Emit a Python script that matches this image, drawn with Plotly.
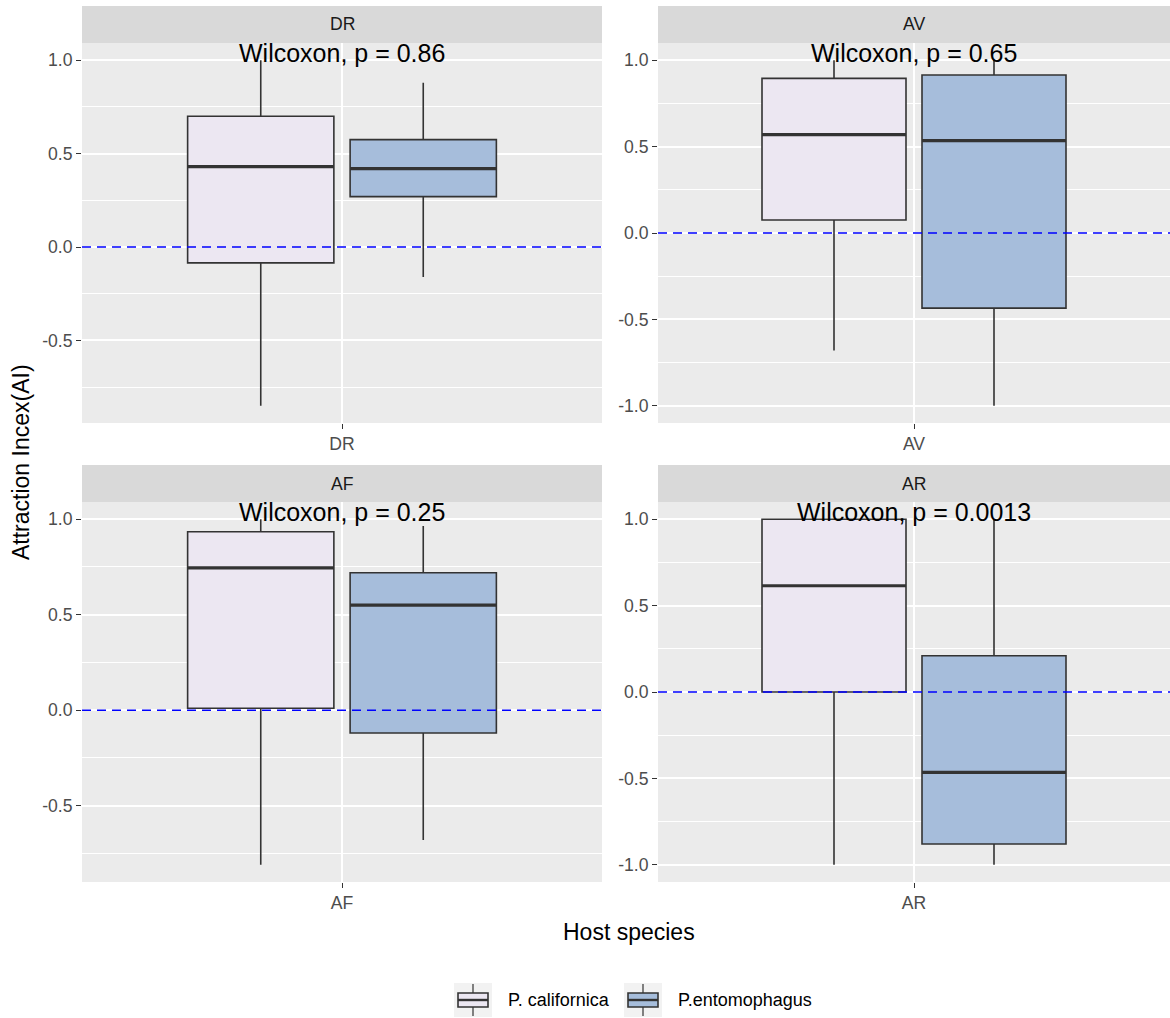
import plotly.graph_objects as go
from plotly.subplots import make_subplots

# ---- data -------------------------------------------------------------
facets = ["DR", "AV", "AF", "AR"]
species = ["P. californica", "P.entomophagus"]
fill_colors = ["#ECE7F2", "#A6BDDB"]

# five-number summaries per facet, order within each list = species
lower = {"DR": [-0.85, -0.16], "AV": [-0.68, -1.00], "AF": [-0.81, -0.68], "AR": [-1.00, -1.00]}
q1 = {"DR": [-0.085, 0.27], "AV": [0.075, -0.435], "AF": [0.01, -0.12], "AR": [0.00, -0.88]}
median = {"DR": [0.43, 0.42], "AV": [0.57, 0.535], "AF": [0.745, 0.55], "AR": [0.615, -0.465]}
q3 = {"DR": [0.70, 0.575], "AV": [0.895, 0.915], "AF": [0.935, 0.72], "AR": [1.00, 0.21]}
upper = {"DR": [1.00, 0.88], "AV": [1.00, 1.00], "AF": [1.00, 0.965], "AR": [1.00, 1.00]}

p_values = {"DR": "0.86", "AV": "0.65", "AF": "0.25", "AR": "0.0013"}

x_title = "Host species"
y_title = "Attraction Incex(AI)"

# ---- layout constants (pixels) ----------------------------------------
W, H = 1170, 1018
FONT = "Liberation Sans, Arial, sans-serif"
col_px = [(82, 602), (658, 1170)]
row_px = [(43, 423), (502, 882)]          # panel top/bottom
strip_px = [(6, 43), (465, 502)]          # strip top/bottom
dodge = 0.1875                            # box centre offset from category
box_w = 0.3375                            # box width in category units
LINE = "#333333"


def px_x(p):
    return p / W


def px_y(p):
    return 1 - p / H


fig = make_subplots(rows=2, cols=2)

for k, fac in enumerate(facets):
    r, c = divmod(k, 2)
    xa = "x" if k == 0 else f"x{k + 1}"
    ya = "y" if k == 0 else f"y{k + 1}"
    for j, sp in enumerate(species):
        xpos = 1 + (2 * j - 1) * dodge
        fig.add_trace(
            go.Box(
                x=[xpos],
                q1=[q1[fac][j]],
                median=[median[fac][j]],
                q3=[q3[fac][j]],
                lowerfence=[lower[fac][j]],
                upperfence=[upper[fac][j]],
                width=box_w,
                whiskerwidth=0,
                boxpoints=False,
                fillcolor=fill_colors[j],
                line=dict(color=LINE, width=1.6),
                name=sp,
                showlegend=False,
                hoverinfo="skip",
            ),
            row=r + 1, col=c + 1,
        )
        # thicker median bar
        fig.add_trace(
            go.Scatter(
                x=[xpos - box_w / 2, xpos + box_w / 2],
                y=[median[fac][j]] * 2,
                mode="lines",
                line=dict(color=LINE, width=3.2),
                showlegend=False,
                hoverinfo="skip",
            ),
            row=r + 1, col=c + 1,
        )

    # y range with 5% expansion of the data range
    lo = min(lower[fac])
    hi = max(upper[fac])
    pad = 0.05 * (hi - lo)

    fig.update_xaxes(
        domain=[px_x(col_px[c][0]), px_x(col_px[c][1])],
        range=[0.4, 1.6], tickvals=[1], ticktext=[fac],
        showgrid=True, gridcolor="white", gridwidth=2,
        zeroline=False, showline=False,
        ticks="outside", ticklen=5, tickwidth=1, tickcolor=LINE,
        tickfont=dict(family=FONT, size=17.6, color="#4D4D4D"),
        row=r + 1, col=c + 1,
    )
    fig.update_yaxes(
        domain=[px_y(row_px[r][1]), px_y(row_px[r][0])],
        range=[lo - pad, hi + pad],
        tickvals=[-1.0, -0.5, 0.0, 0.5, 1.0],
        ticktext=["-1.0", "-0.5", "0.0", "0.5", "1.0"],
        showgrid=True, gridcolor="white", gridwidth=2,
        minor=dict(tickvals=[-0.75, -0.25, 0.25, 0.75], showgrid=True,
                   gridcolor="white", gridwidth=1, ticks=""),
        zeroline=False, showline=False,
        ticks="outside", ticklen=5, tickwidth=1, tickcolor=LINE,
        tickfont=dict(family=FONT, size=17.6, color="#4D4D4D"),
        row=r + 1, col=c + 1,
    )

    # reference line at zero
    fig.add_shape(
        type="line", xref=f"{xa} domain", yref=ya,
        x0=0, x1=1, y0=0, y1=0,
        line=dict(color="blue", width=1.5, dash="9px,6px"),
        layer="above",
    )

    # facet strip
    fig.add_shape(
        type="rect", xref="paper", yref="paper",
        x0=px_x(col_px[c][0]), x1=px_x(col_px[c][1]),
        y0=px_y(strip_px[r][1]), y1=px_y(strip_px[r][0]),
        fillcolor="#D9D9D9", line=dict(width=0), layer="below",
    )
    fig.add_annotation(
        xref="paper", yref="paper",
        x=px_x((col_px[c][0] + col_px[c][1]) / 2),
        y=px_y((strip_px[r][0] + strip_px[r][1]) / 2),
        text=fac, showarrow=False, xanchor="center", yanchor="middle",
        font=dict(family=FONT, size=17.6, color="#1A1A1A"),
    )

    # test label placed at the top of the data
    fig.add_annotation(
        xref=xa, yref=ya, x=1, y=hi,
        text=f"Wilcoxon, p = {p_values[fac]}",
        showarrow=False, xanchor="center", yanchor="bottom", yshift=-9,
        font=dict(family=FONT, size=25, color="black"),
    )

# axis titles
fig.add_annotation(
    xref="paper", yref="paper", x=px_x(629), y=px_y(932),
    text=x_title, showarrow=False, xanchor="center", yanchor="middle",
    font=dict(family=FONT, size=23, color="black"),
)
fig.add_annotation(
    xref="paper", yref="paper", x=px_x(21), y=px_y(462),
    text=y_title, textangle=-90, showarrow=False,
    xanchor="center", yanchor="middle",
    font=dict(family=FONT, size=23, color="black"),
)

# legend: boxplot key glyphs followed by labels
key_left = [454, 624]
key_top, key_bot = 983, 1017
for j, sp in enumerate(species):
    kx0 = key_left[j]
    kx1 = kx0 + 38
    cx = (kx0 + kx1) / 2
    fig.add_shape(type="rect", xref="paper", yref="paper",
                  x0=px_x(kx0), x1=px_x(kx1), y0=px_y(key_bot), y1=px_y(key_top),
                  fillcolor="#F2F2F2", line=dict(width=0))
    fig.add_shape(type="line", xref="paper", yref="paper",
                  x0=px_x(cx), x1=px_x(cx), y0=px_y(key_bot - 1), y1=px_y(key_top + 1),
                  line=dict(color=LINE, width=1.2))
    fig.add_shape(type="rect", xref="paper", yref="paper",
                  x0=px_x(kx0 + 4), x1=px_x(kx1 - 4), y0=px_y(1007), y1=px_y(993),
                  fillcolor=fill_colors[j], line=dict(color=LINE, width=1.6))
    fig.add_shape(type="line", xref="paper", yref="paper",
                  x0=px_x(kx0 + 4), x1=px_x(kx1 - 4), y0=px_y(1000), y1=px_y(1000),
                  line=dict(color=LINE, width=2.4))
    fig.add_annotation(
        xref="paper", yref="paper", x=px_x(kx1 + 14), y=px_y(1000),
        text=sp, showarrow=False, xanchor="left", yanchor="middle",
        font=dict(family=FONT, size=18, color="black"),
    )

fig.update_layout(
    width=W, height=H,
    margin=dict(l=0, r=0, t=0, b=0),
    paper_bgcolor="white",
    plot_bgcolor="#EBEBEB",
    boxmode="overlay",
    showlegend=False,
)

fig.write_html("out.html")
